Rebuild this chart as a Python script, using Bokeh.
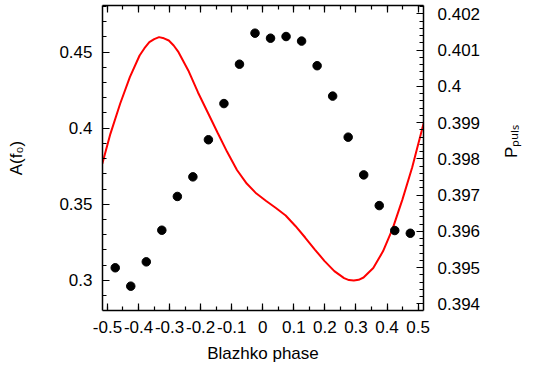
from math import pi
from bokeh.plotting import figure
from bokeh.models import Range1d, LinearAxis, FixedTicker
from bokeh.embed import file_html
from bokeh.resources import INLINE

# ---- data ----
phase = [-0.475, -0.425, -0.375, -0.325, -0.275, -0.225, -0.175, -0.125, -0.075, -0.025,
         0.025, 0.075, 0.125, 0.175, 0.225, 0.275, 0.325, 0.375, 0.425, 0.475]
amp_f0 = [0.3082, 0.2961, 0.3121, 0.3329, 0.3551, 0.3680, 0.3924, 0.4162, 0.4421, 0.4625,
          0.4592, 0.4603, 0.4573, 0.4411, 0.4211, 0.3941, 0.3693, 0.3491, 0.3327, 0.3309]

curve_phase = [-0.5166, -0.4906, -0.4592, -0.4279, -0.3966, -0.3809, -0.3652, -0.3495, -0.3339,
               -0.3182, -0.3025, -0.2868, -0.2712,
               -0.2398, -0.2085, -0.1771, -0.1458, -0.1144, -0.0831, -0.0517, -0.0204, 0.0110,
               0.0423, 0.0737, 0.1050, 0.1364, 0.1677, 0.1991, 0.2304, 0.2618, 0.2775, 0.2931,
               0.3088, 0.3245, 0.3558, 0.3871, 0.4185, 0.4498, 0.4812, 0.5180]
curve_val = [0.3766, 0.3963, 0.4161, 0.4336, 0.4478, 0.4526, 0.4566, 0.4586, 0.4599,
             0.4591, 0.4577, 0.4544, 0.4500,
             0.4380, 0.4235, 0.4103, 0.3972, 0.3843, 0.3725, 0.3636, 0.3570, 0.3521,
             0.3475, 0.3426, 0.3357, 0.3281, 0.3202, 0.3126, 0.3060, 0.3014, 0.3001, 0.2998,
             0.3003, 0.3018, 0.3081, 0.3190, 0.3341, 0.3532, 0.3743, 0.4033]

x_ticks = [-0.5, -0.4, -0.3, -0.2, -0.1, 0, 0.1, 0.2, 0.3, 0.4, 0.5]
x_tick_labels = ["-0.5", "-0.4", "-0.3", "-0.2", "-0.1", "0", "0.1", "0.2", "0.3", "0.4", "0.5"]
x_minor = [-0.5, -0.45, -0.4, -0.35, -0.3, -0.25, -0.2, -0.15, -0.1, -0.05, 0,
           0.05, 0.1, 0.15, 0.2, 0.25, 0.3, 0.35, 0.4, 0.45, 0.5]
yl_ticks = [0.3, 0.35, 0.4, 0.45]
yl_tick_labels = ["0.3", "0.35", "0.4", "0.45"]
yl_minor = [0.28, 0.29, 0.3, 0.31, 0.32, 0.33, 0.34, 0.35, 0.36, 0.37, 0.38, 0.39, 0.4,
            0.41, 0.42, 0.43, 0.44, 0.45, 0.46, 0.47, 0.48]
yr_ticks = [0.394, 0.395, 0.396, 0.397, 0.398, 0.399, 0.4, 0.401, 0.402]
yr_tick_labels = ["0.394", "0.395", "0.396", "0.397", "0.398", "0.399", "0.4", "0.401", "0.402"]
yr_minor = [round(0.3940 + 0.0002 * i, 4) for i in range(-1, 42)]

x_title = "Blazhko phase"
yl_title = "A(f\u2080)"
yr_title = "P\u209a\u1d64\u2097\u209b"

FONT = "Liberation Sans"
FS = "17px"

p = figure(width=533, height=366,
           x_range=Range1d(-0.516, 0.5175), y_range=Range1d(0.2801, 0.4807),
           output_backend="svg", toolbar_location=None,
           min_border_left=102, min_border_right=101, min_border_top=5, min_border_bottom=56)
p.extra_y_ranges = {"per": Range1d(0.393815, 0.40223)}
p.xgrid.visible = False
p.ygrid.visible = False
p.outline_line_color = None
p.background_fill_color = "white"
p.border_fill_color = "white"


def style_axis(ax, ticks, minor, labels, standoff, show_labels=True):
    ax.ticker = FixedTicker(ticks=ticks, minor_ticks=minor)
    if labels:
        ax.major_label_overrides = dict(zip(ticks, labels))
    ax.axis_line_color = "black"
    ax.axis_line_width = 1.5
    ax.major_tick_line_color = "black"
    ax.minor_tick_line_color = "black"
    ax.major_tick_line_width = 1.2
    ax.minor_tick_line_width = 1.2
    ax.major_tick_in = 7
    ax.major_tick_out = 0
    ax.minor_tick_in = 4
    ax.minor_tick_out = 0
    ax.major_label_standoff = standoff
    ax.major_label_text_font = FONT
    ax.major_label_text_color = "black"
    if show_labels:
        ax.major_label_text_font_size = FS
    else:
        ax.major_label_text_font_size = "1px"
        ax.major_label_text_alpha = 0
    ax.axis_label_text_font = FONT
    ax.axis_label_text_font_size = FS
    ax.axis_label_text_font_style = "normal"
    ax.axis_label_text_color = "black"


xb = p.xaxis[0]
style_axis(xb, x_ticks, x_minor, x_tick_labels, 10)
xb.axis_label = x_title
xb.axis_label_standoff = 8

yl = p.yaxis[0]
style_axis(yl, yl_ticks, yl_minor, yl_tick_labels, 10)
yl.axis_label = yl_title
yl.axis_label_standoff = 30

xt = LinearAxis()
style_axis(xt, x_ticks, x_minor, None, 0, show_labels=False)
p.add_layout(xt, "above")

yr = LinearAxis(y_range_name="per")
style_axis(yr, yr_ticks, yr_minor, yr_tick_labels, 14)
yr.axis_label = yr_title
yr.axis_label_standoff = 28
yr.axis_label_orientation = pi / 2
p.add_layout(yr, "right")

# ---- data ----
p.line(curve_phase, curve_val, line_color="#ff0000", line_width=2)
p.scatter(phase, amp_f0, size=8.5, fill_color="black", line_color="black")

open("out.html", "w").write(file_html(p, INLINE))
